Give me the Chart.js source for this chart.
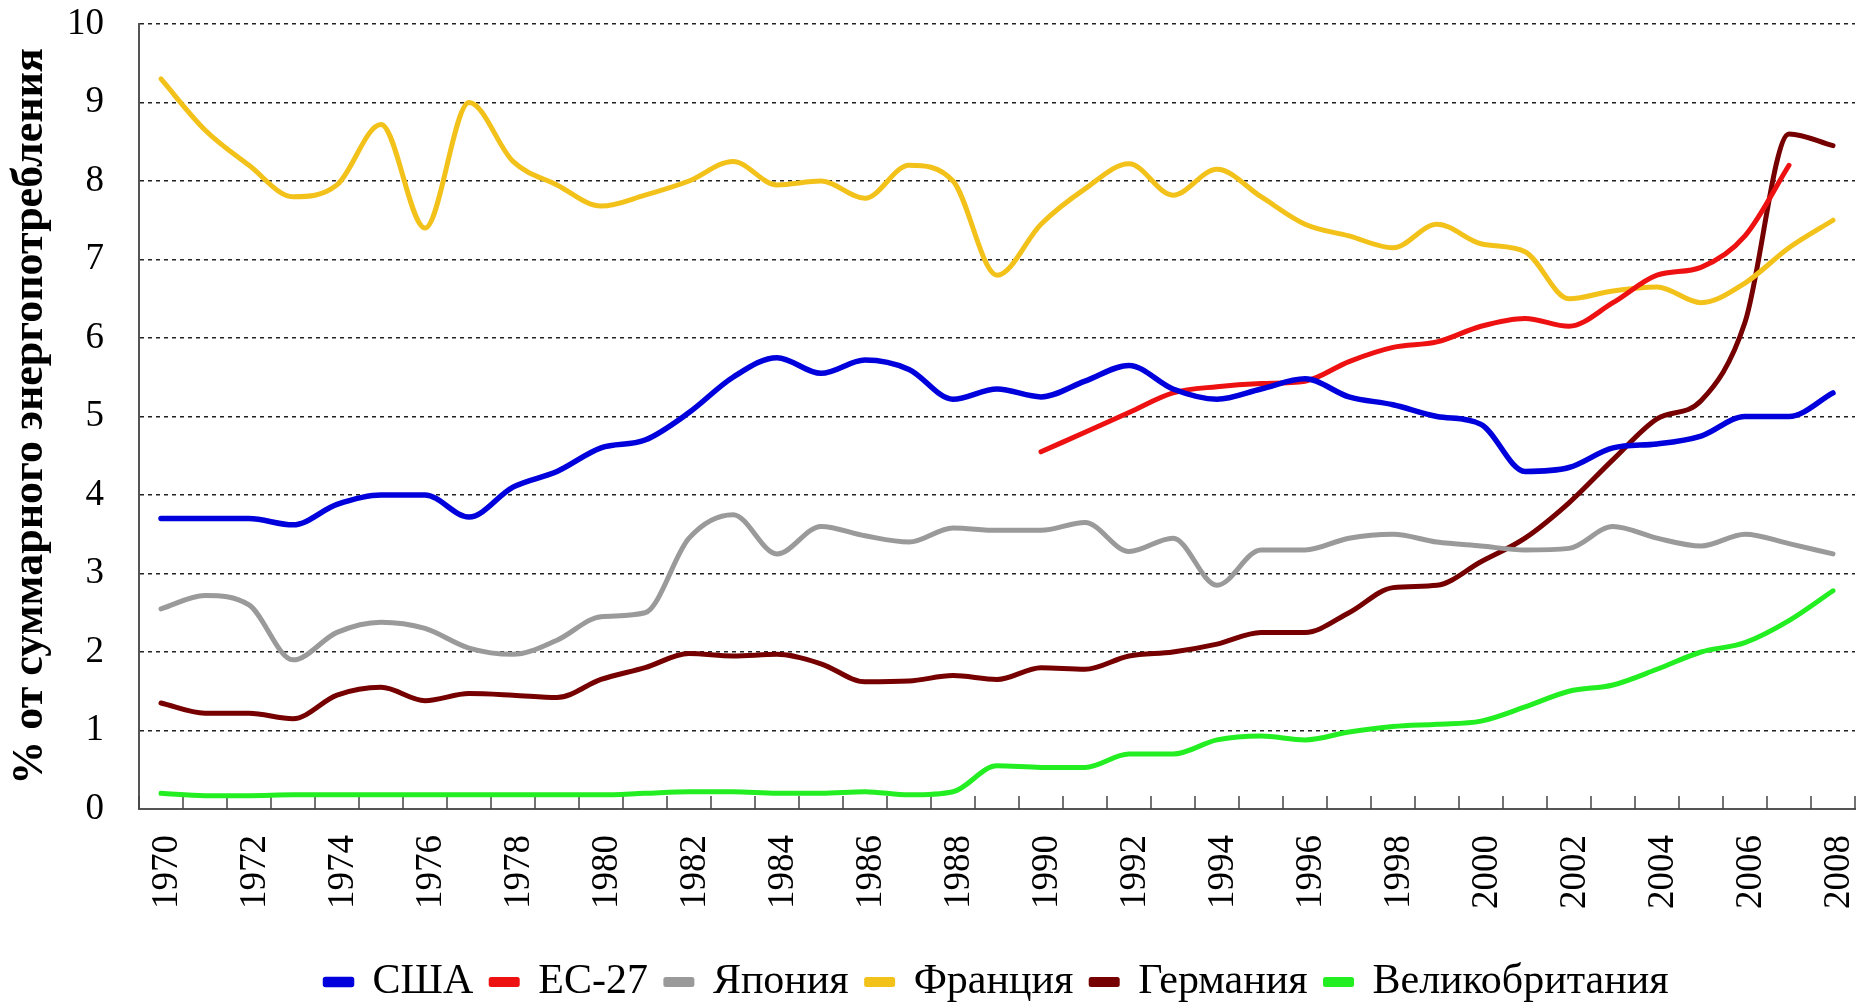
<!DOCTYPE html>
<html>
<head>
<meta charset="utf-8">
<script src="https://cdn.jsdelivr.net/npm/chart.js@4.4.1/dist/chart.umd.min.js"></script>
<style>
  html, body { margin: 0; padding: 0; background: #fff; }
  #wrap { width: 1862px; height: 1002px; }
</style>
</head>
<body>
<div id="wrap"><canvas id="chart"></canvas></div>
<script>
const years = ['1970', '1971', '1972', '1973', '1974', '1975', '1976', '1977', '1978', '1979',
  '1980', '1981', '1982', '1983', '1984', '1985', '1986', '1987', '1988', '1989',
  '1990', '1991', '1992', '1993', '1994', '1995', '1996', '1997', '1998', '1999',
  '2000', '2001', '2002', '2003', '2004', '2005', '2006', '2007', '2008']

// only every other year gets a label
const tickYears = ['1970', '1972', '1974', '1976', '1978', '1980', '1982', '1984', '1986', '1988',
  '1990', '1992', '1994', '1996', '1998', '2000', '2002', '2004', '2006', '2008']

const usa = [3.7, 3.7, 3.7, 3.62, 3.88, 4.0, 4.0, 3.72, 4.1, 4.3,
  4.6, 4.7, 5.05, 5.5, 5.75, 5.55, 5.72, 5.6, 5.22, 5.35,
  5.25, 5.45, 5.65, 5.35, 5.22, 5.35, 5.48, 5.25, 5.15, 5.0,
  4.9, 4.3, 4.35, 4.6, 4.65, 4.75, 5.0, 5.0, 5.3]

const eu27 = [null, null, null, null, null, null, null, null, null, null,
  null, null, null, null, null, null, null, null, null, null,
  4.55, 4.8, 5.05, 5.3, 5.38, 5.42, 5.45, 5.7, 5.88, 5.95,
  6.15, 6.25, 6.15, 6.45, 6.8, 6.9, 7.3, 8.2, null]

const japan = [2.55, 2.72, 2.6, 1.9, 2.25, 2.38, 2.3, 2.05, 1.97, 2.15,
  2.45, 2.5, 3.45, 3.75, 3.25, 3.6, 3.48, 3.4, 3.58, 3.55,
  3.55, 3.65, 3.28, 3.45, 2.85, 3.3, 3.3, 3.45, 3.5, 3.4,
  3.35, 3.3, 3.32, 3.6, 3.45, 3.35, 3.5, 3.38, 3.25]

const france = [9.3, 8.65, 8.2, 7.8, 7.95, 8.72, 7.4, 9.0, 8.25, 7.95,
  7.68, 7.82, 8.0, 8.25, 7.95, 8.0, 7.78, 8.2, 8.0, 6.8,
  7.45, 7.9, 8.22, 7.82, 8.15, 7.8, 7.45, 7.3, 7.15, 7.45,
  7.2, 7.1, 6.5, 6.6, 6.65, 6.45, 6.7, 7.15, 7.5]

const germany = [1.35, 1.22, 1.22, 1.15, 1.45, 1.55, 1.38, 1.47, 1.45, 1.42,
  1.65, 1.8, 1.98, 1.95, 1.97, 1.85, 1.62, 1.63, 1.7, 1.65,
  1.8, 1.78, 1.95, 2.0, 2.1, 2.25, 2.25, 2.5, 2.82, 2.85,
  3.15, 3.45, 3.9, 4.45, 4.97, 5.2, 6.2, 8.6, 8.45]

const uk = [0.2, 0.17, 0.17, 0.18, 0.18, 0.18, 0.18, 0.18, 0.18, 0.18,
  0.18, 0.2, 0.22, 0.22, 0.2, 0.2, 0.22, 0.18, 0.22, 0.55,
  0.53, 0.53, 0.7, 0.7, 0.88, 0.93, 0.88, 0.98, 1.05, 1.08,
  1.12, 1.3, 1.5, 1.58, 1.78, 2.0, 2.12, 2.4, 2.78]

const serif = "'Liberation Serif', 'Times New Roman', serif"

// small upward tick marks between the years, like the original
const innerTicks = {
  id: "innerTicks",
  beforeDatasetsDraw(chart) {
    const x = chart.scales.x
    const { ctx, chartArea } = chart
    const step = x.getPixelForValue(1) - x.getPixelForValue(0)
    ctx.save()
    ctx.strokeStyle = "#444"
    ctx.lineWidth = 1.5
    for (let i = 0; i <= years.length; i++) {
      const px = x.getPixelForValue(i) - step / 2
      ctx.beginPath()
      ctx.moveTo(px, chartArea.bottom)
      ctx.lineTo(px, chartArea.bottom - 13)
      ctx.stroke()
    }
    ctx.restore()
  }
}

function series(label, data, color, width) {
  return {
    label: label,
    data: data,
    borderColor: color,
    backgroundColor: color,
    borderWidth: width,
    borderCapStyle: "round",
    borderJoinStyle: "round",
    pointRadius: 0,
    cubicInterpolationMode: "monotone",
    spanGaps: false
  }
}

new Chart(document.getElementById("chart"), {
  type: "line",
  data: {
    labels: years,
    datasets: [
      series("США", usa, "#0000dd", 5.5),
      series("ЕС-27", eu27, "#ee1111", 5),
      series("Япония", japan, "#9a9a9a", 5),
      series("Франция", france, "#f2c21b", 5),
      series("Германия", germany, "#760000", 5),
      series("Великобритания", uk, "#22ee22", 5)
    ]
  },
  plugins: [innerTicks],
  options: {
    responsive: true,
    maintainAspectRatio: false,
    animation: false,
    layout: { padding: { top: 24, right: 7, left: 0, bottom: -11 } },
    plugins: {
      legend: {
        position: "bottom",
        fullSize: false,
        labels: {
          color: "#000",
          font: { family: serif, size: 42 },
          boxWidth: 26,
          boxHeight: 5,
          padding: 18
        }
      },
      tooltip: { enabled: false }
    },
    scales: {
      x: {
        offset: true,
        grid: { display: false, drawTicks: false },
        border: { display: true, color: "#555", width: 2 },
        ticks: {
          autoSkip: false,
          maxRotation: 90,
          minRotation: 90,
          padding: 26,
          labelOffset: 6,
          color: "#000",
          font: { family: serif, size: 37 },
          callback: function (value, index) {
            const y = years[index]
            return tickYears.includes(y) ? y : ""
          }
        },
        afterFit: function (scale) {
          scale.height = 134
          scale.paddingLeft = 0
          scale.paddingRight = 0
        }
      },
      y: {
        min: 0,
        max: 10,
        ticks: {
          stepSize: 1,
          padding: 35,
          color: "#000",
          font: { family: serif, size: 37 }
        },
        grid: { color: "#222", lineWidth: 1.5, drawTicks: false },
        border: { display: true, color: "#555", width: 2, dash: [4, 4] },
        title: {
          display: true,
          text: "% от суммарного энергопотребления",
          color: "#000",
          font: { family: serif, size: 44, weight: "bold" },
          padding: { top: 4, bottom: 0 }
        },
        afterFit: function (scale) {
          scale.width = 139
          scale.paddingTop = 0
          scale.paddingBottom = 0
        }
      }
    }
  }
})
</script>
</body>
</html>
